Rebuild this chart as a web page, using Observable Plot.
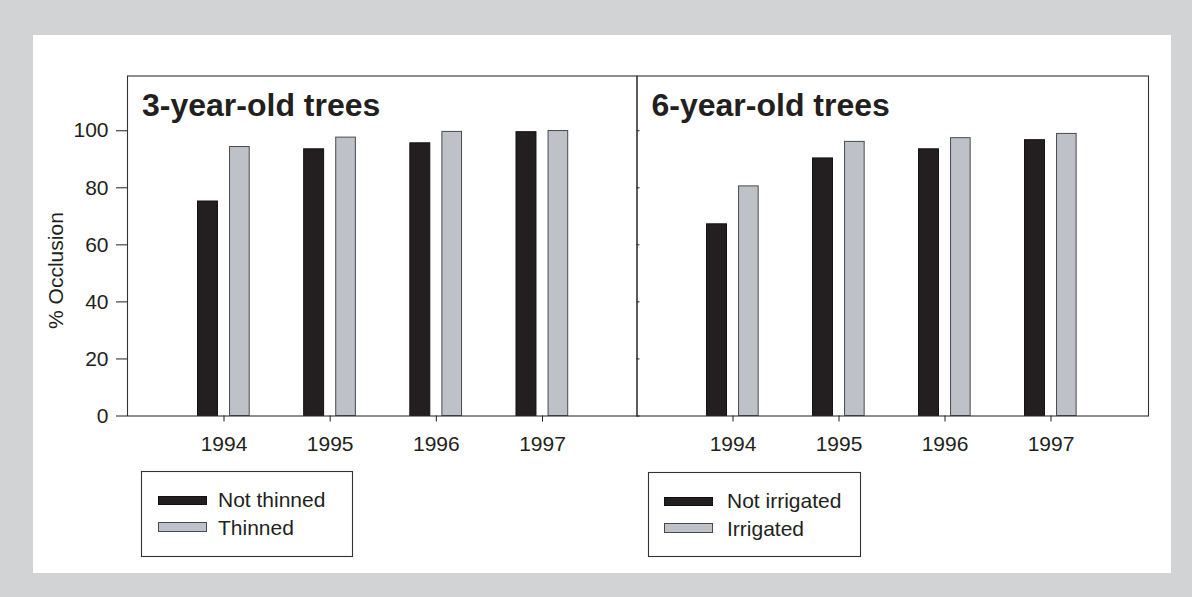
<!DOCTYPE html>
<html><head><meta charset="utf-8">
<script src="https://cdn.jsdelivr.net/npm/d3@7"></script>
<script src="https://cdn.jsdelivr.net/npm/@observablehq/plot@0.6"></script>
<style>
html,body{margin:0;padding:0;background:#d1d3d4;}
#wrap{position:relative;width:1192px;height:597px;background:#d1d3d4;overflow:hidden;font-family:"Liberation Sans",Arial,Helvetica,sans-serif;}
#inner{position:absolute;left:33px;top:35px;width:1138px;height:538px;background:#fff;}
.panel{position:absolute;top:0;}
#legend{position:absolute;left:0;top:0;pointer-events:none;}
</style></head><body><div id="wrap"><div id="inner"></div></div>
<script>
// ---- data ----
const years = [1994, 1995, 1996, 1997];
const yTicks = [0, 20, 40, 60, 80, 100];
const panelTitles = ["3-year-old trees", "6-year-old trees"];
const notThinned = [75.2, 93.5, 95.6, 99.5];
const thinned = [94.3, 97.6, 99.6, 99.9];
const notIrrigated = [67.2, 90.3, 93.5, 96.7];
const irrigated = [80.5, 96.1, 97.4, 98.9];
const legendLabels1 = ["Not thinned", "Thinned"];
const legendLabels2 = ["Not irrigated", "Irrigated"];
const yLabel = "% Occlusion";

// ---- style ----
const darkFill = "#231f20", darkStroke = "#111";
const lightFill = "#bec1c8", lightStroke = "#4a4a4a";
const textColor = "#231f20";
const frameColor = "#333";
const FONT = '"Liberation Sans", Arial, Helvetica, sans-serif';

function panel({title, a, b, xDomain, left, width, ml, mr, first}) {
  const rows = (vals) => years.map((yr, i) => ({year: yr, value: vals[i]}));
  const marks = [
    Plot.rectY(rows(a), {x1: d => d.year - 0.245, x2: d => d.year - 0.057, y: "value",
      fill: darkFill, stroke: darkStroke, strokeWidth: 1}),
    Plot.rectY(rows(b), {x1: d => d.year + 0.057, x2: d => d.year + 0.242, y: "value",
      fill: lightFill, stroke: lightStroke, strokeWidth: 1}),
    Plot.frame({stroke: frameColor, strokeWidth: 1.1}),
    Plot.axisX({ticks: years, tickFormat: d => String(d), tickSize: 6, tickPadding: 14, label: null}),
    Plot.text([title], {frameAnchor: "top-left", dx: 14.5, dy: 17, lineAnchor: "top",
      textAnchor: "start", fontSize: 32, fontWeight: "bold", fill: textColor})
  ];
  if (first) {
    marks.push(Plot.axisY({ticks: yTicks, tickSize: 11, tickPadding: 8, label: null}));
    marks.push(Plot.text([yLabel], {x: () => xDomain[0], y: () => 51, text: d => d, dx: -71,
      rotate: -90, textAnchor: "middle", lineAnchor: "middle", fontSize: 21, fill: textColor}));
  } else {
    marks.push(Plot.axisY({ticks: yTicks, tickSize: 3, dx: 3, tickFormat: () => "", label: null}));
  }
  const svg = Plot.plot({
    width, height: 480,
    marginLeft: ml, marginRight: mr, marginTop: 75.5, marginBottom: 64.5,
    x: {type: "linear", domain: xDomain, axis: null},
    y: {domain: [0, 119.2], axis: null},
    style: {background: "transparent", fontFamily: FONT, fontSize: "21px", color: textColor, overflow: "visible"},
    marks
  });
  svg.classList.add("panel");
  svg.style.left = left + "px";
  svg.style.position = "absolute";
  svg.style.top = "0px";
  return svg;
}

const wrap = document.getElementById("wrap");
wrap.appendChild(panel({title: panelTitles[0], a: notThinned, b: thinned,
  xDomain: [1993.091, 1997.89], left: 0, width: 640, ml: 127, mr: 3.5, first: true}));
wrap.appendChild(panel({title: panelTitles[1], a: notIrrigated, b: irrigated,
  xDomain: [1993.094, 1997.92], left: 600, width: 560, ml: 36.5, mr: 12, first: false}));

// ---- legends ----
const lsvg = d3.select(wrap).append("svg").attr("id", "legend")
  .attr("width", 1192).attr("height", 597).style("font-family", FONT);
function legend(x, y, w, h, labels, swX, txtX) {
  const g = lsvg.append("g");
  g.append("rect").attr("x", x + 0.5).attr("y", y + 0.5).attr("width", w).attr("height", h)
    .attr("fill", "#fff").attr("stroke", frameColor).attr("stroke-width", 1.1);
  const fills = [darkFill, lightFill], strokes = [darkStroke, lightStroke];
  const swY = [y + 25, y + 51], swH = [8, 9], base = [y + 36, y + 64];
  labels.forEach((lab, i) => {
    g.append("rect").attr("x", swX + 0.5).attr("y", swY[i] + 0.5).attr("width", 48).attr("height", swH[i])
      .attr("fill", fills[i]).attr("stroke", strokes[i]).attr("stroke-width", 1);
    g.append("text").attr("x", txtX).attr("y", base[i]).attr("font-size", 21)
      .attr("fill", textColor).text(lab);
  });
}
legend(141, 471, 211, 85, legendLabels1, 158, 218);
legend(648, 472, 212, 84, legendLabels2, 664, 727);
</script>
</body></html>
